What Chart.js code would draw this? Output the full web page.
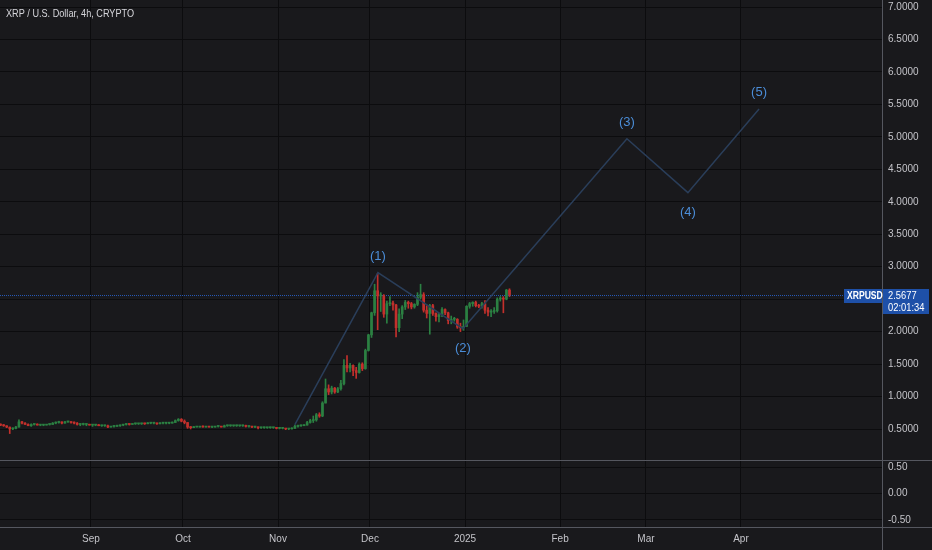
<!DOCTYPE html>
<html>
<head>
<meta charset="utf-8">
<script src="https://cdn.jsdelivr.net/npm/chart.js@4.4.1/dist/chart.umd.min.js"></script>
<style>
  html, body { margin: 0; padding: 0; background: #19191c; }
  #wrap { width: 932px; height: 550px; position: relative; }
</style>
</head>
<body>
<div id="wrap"><canvas id="grafica"></canvas></div>
<script>
// ---- data (days counted from 1 Sep 2024) ----
var firstDay = -31;      // 1 Aug 2024
var firstOpen = 0.58;

var closes = [
  0.57,0.56,0.55,0.53,0.50,0.51,0.53,0.61,0.59,0.57,0.55,0.57,0.57,0.56,0.56,0.56,0.57,0.57,0.59,0.60,0.61,0.59,0.61,0.61,0.60,0.59,0.57,0.57,0.57,0.57,0.56,
  0.56,0.56,0.55,0.55,0.55,0.53,0.54,0.54,0.55,0.56,0.57,0.58,0.57,0.58,0.58,0.58,0.59,0.58,0.59,0.59,0.59,0.58,0.59,0.59,0.59,0.59,0.60,0.63,0.65,0.62,
  0.60,0.53,0.52,0.53,0.53,0.54,0.53,0.54,0.53,0.53,0.54,0.54,0.53,0.55,0.55,0.55,0.55,0.55,0.55,0.55,0.54,0.54,0.53,0.53,0.52,0.52,0.52,0.52,0.52,0.52,0.51,
  0.51,0.51,0.50,0.50,0.51,0.54,0.55,0.55,0.56,0.60,0.63,0.64,0.72,0.70,0.90,1.12,1.07,1.13,1.07,1.12,1.20,1.48,1.44,1.48,1.40,1.37,1.50,1.43,1.71,1.95,
  2.29,2.63,2.55,2.55,2.27,2.43,2.44,2.41,2.06,2.27,2.38,2.45,2.43,2.38,2.42,2.53,2.57,2.33,2.28,2.40,2.28,2.23,2.26,2.34,2.29,2.17,2.19,2.19,2.07,2.06,2.08,
  2.39,2.43,2.45,2.40,2.39,2.43,2.33,2.30,2.31,2.32,2.50,2.51,2.50,2.64,2.57
];
var highs = [
  0.59,0.58,0.57,0.55,0.53,0.52,0.54,0.64,0.62,0.60,0.58,0.58,0.58,0.58,0.57,0.57,0.57,0.58,0.60,0.61,0.62,0.61,0.62,0.62,0.61,0.61,0.60,0.58,0.59,0.58,0.57,
  0.57,0.57,0.57,0.56,0.56,0.56,0.54,0.55,0.56,0.56,0.57,0.58,0.58,0.58,0.59,0.58,0.59,0.59,0.60,0.60,0.59,0.59,0.60,0.60,0.60,0.60,0.61,0.64,0.66,0.66,
  0.64,0.60,0.54,0.54,0.54,0.54,0.55,0.54,0.54,0.54,0.54,0.55,0.54,0.56,0.56,0.56,0.55,0.56,0.55,0.56,0.56,0.54,0.54,0.54,0.53,0.52,0.53,0.52,0.53,0.52,0.52,
  0.52,0.51,0.51,0.51,0.52,0.56,0.56,0.56,0.57,0.62,0.65,0.70,0.74,0.75,0.92,1.27,1.18,1.16,1.14,1.14,1.25,1.57,1.63,1.51,1.49,1.45,1.52,1.52,1.73,1.96,
  2.30,2.73,2.90,2.60,2.57,2.47,2.54,2.47,2.42,2.35,2.40,2.48,2.47,2.45,2.43,2.60,2.73,2.60,2.40,2.42,2.42,2.29,2.28,2.37,2.35,2.30,2.24,2.22,2.20,2.13,2.18,
  2.40,2.45,2.46,2.47,2.42,2.45,2.48,2.37,2.34,2.37,2.52,2.54,2.54,2.65,2.66
];
var lows = [
  0.56,0.55,0.54,0.52,0.43,0.49,0.50,0.53,0.58,0.57,0.55,0.54,0.56,0.56,0.55,0.55,0.56,0.56,0.57,0.58,0.59,0.58,0.59,0.60,0.59,0.58,0.56,0.55,0.56,0.55,0.56,
  0.54,0.55,0.55,0.54,0.54,0.52,0.53,0.53,0.54,0.54,0.55,0.56,0.56,0.57,0.57,0.57,0.57,0.57,0.58,0.58,0.58,0.57,0.58,0.58,0.58,0.58,0.59,0.60,0.62,0.61,
  0.58,0.51,0.50,0.52,0.53,0.53,0.53,0.53,0.53,0.52,0.53,0.53,0.53,0.53,0.54,0.54,0.54,0.54,0.54,0.54,0.53,0.53,0.52,0.52,0.50,0.51,0.51,0.51,0.51,0.51,0.50,
  0.50,0.50,0.49,0.49,0.50,0.51,0.53,0.54,0.55,0.56,0.59,0.60,0.62,0.68,0.69,0.90,1.03,1.04,1.05,1.06,1.10,1.18,1.38,1.38,1.32,1.28,1.36,1.40,1.42,1.70,
  1.91,2.25,2.03,2.31,2.22,2.13,2.40,2.33,1.92,2.00,2.20,2.34,2.36,2.35,2.36,2.40,2.50,2.30,2.21,1.96,2.25,2.16,2.15,2.23,2.26,2.12,2.12,2.16,2.05,2.00,2.02,
  2.08,2.36,2.39,2.38,2.37,2.36,2.28,2.24,2.23,2.28,2.30,2.47,2.29,2.49,2.54
];

var monthDays   = [0, 30, 61, 91, 122, 153, 181, 212];
var monthLabels = ['Sep', 'Oct', 'Nov', 'Dec', '2025', 'Feb', 'Mar', 'Apr'];
var priceTicks  = [0.5, 1, 1.5, 2, 2.5, 3, 3.5, 4, 4.5, 5, 5.5, 6, 6.5, 7];
var paneTicks   = [-0.5, 0, 0.5];

// elliott wave count drawn on top
var waveDays   = [66.5, 93.6, 121.3, 174.8, 194.7, 217.9];
var wavePrices = [0.566, 2.908, 2.045, 4.97, 4.14, 5.43];
var waveLabels = ['', '(1)', '(2)', '(3)', '(4)', '(5)'];

var lastPrice = 2.5677;
var symbol = 'XRPUSD';
var countdown = '02:01:34';
var title = 'XRP / U.S. Dollar, 4h, CRYPTO';

// ---- styles ----
var bg = '#19191c';
var gridCol = '#0c0c0e';
var sepCol = '#55575f';
var txtCol = '#c4c4c9';
var upCol = '#2b8042';
var downCol = '#c3302c';
var fontFam = '"Liberation Sans", Arial, sans-serif';

// build candles
var wicks = [], bodies = [], colors = [];
var open = firstOpen;
for (var i = 0; i < closes.length; i++) {
  var d = firstDay + i + 0.5;
  wicks.push({x: d, y: [lows[i], highs[i]]});
  bodies.push({x: d, y: [open, closes[i]]});
  colors.push(closes[i] >= open ? upCol : downCol);
  open = closes[i];
}
var wavePts = waveDays.map(function (d, k) { return {x: d, y: wavePrices[k]}; });

// narrow text like the tradingview font
function narrowText(c, txt, x, y, sx) {
  c.save();
  c.translate(x, y);
  c.scale(sx, 1);
  c.fillText(txt, 0, 0);
  c.restore();
}

var tvPlugin = {
  id: 'tv',
  beforeDraw: function (chart) {
    var c = chart.ctx;
    c.save();
    c.fillStyle = bg;
    c.fillRect(0, 0, chart.width, chart.height);
    c.restore();
  },
  beforeDatasetsDraw: function (chart) {
    var c = chart.ctx, a = chart.chartArea;
    var py = Math.round(chart.scales.y.getPixelForValue(lastPrice)) + 0.5;
    c.save();
    c.strokeStyle = '#2657b3';
    c.lineWidth = 1;
    c.setLineDash([1, 1]);
    c.beginPath();
    c.moveTo(a.left, py);
    c.lineTo(a.right, py);
    c.stroke();
    c.restore();
  },
  afterDraw: function (chart) {
    var c = chart.ctx, a = chart.chartArea;
    var sy = chart.scales.y, sx = chart.scales.x, s2 = chart.scales.y2;
    c.save();
    // pane separators
    c.strokeStyle = sepCol;
    c.lineWidth = 1;
    c.beginPath();
    var yb = Math.round(sy.bottom) + 0.5;
    c.moveTo(0, yb); c.lineTo(chart.width, yb);
    var yx = Math.round(s2.bottom) + 0.5;
    c.moveTo(0, yx); c.lineTo(chart.width, yx);
    var xr = Math.round(a.right) + 0.5;
    c.moveTo(xr, 0); c.lineTo(xr, chart.height);
    c.stroke();

    // wave labels
    c.fillStyle = '#4b8dd8';
    c.font = '13px "Liberation Sans", Arial, sans-serif';
    c.textAlign = 'center';
    c.textBaseline = 'middle';
    for (var k = 1; k < waveLabels.length; k++) {
      var px = sx.getPixelForValue(waveDays[k]);
      var py = sy.getPixelForValue(wavePrices[k]);
      c.fillText(waveLabels[k], px, k % 2 ? py - 16.5 : py + 20);
    }

    // title
    c.fillStyle = '#d6d6db';
    c.font = '11px ' + fontFam;
    c.textAlign = 'left';
    narrowText(c, title, 6, 14, 0.83);

    // last price labels
    var lp = Math.round(sy.getPixelForValue(lastPrice));
    c.fillStyle = '#1e50a8';
    c.fillRect(a.right - 38, lp - 6, 38, 14);
    c.fillRect(a.right + 1, lp - 6, 46, 25);
    c.fillStyle = '#ffffff';
    c.font = 'bold 11px ' + fontFam;
    c.textAlign = 'left';
    narrowText(c, symbol, a.right - 35, lp + 1, 0.78);
    c.font = '11px ' + fontFam;
    narrowText(c, lastPrice.toFixed(4), a.right + 6, lp + 1, 0.85);
    narrowText(c, countdown, a.right + 6, lp + 13, 0.85);
    c.restore();
  }
};

var ctx = document.getElementById('grafica').getContext('2d');
var myChart = new Chart(ctx, {
  type: 'bar',
  data: {
    datasets: [
      {
        type: 'line',
        data: wavePts,
        borderColor: '#2a3e5a',
        borderWidth: 1.5,
        pointRadius: 0,
        tension: 0,
        order: 0,
        yAxisID: 'y'
      },
      {
        data: bodies,
        backgroundColor: colors,
        barThickness: 2,
        minBarLength: 1,
        grouped: false,
        order: 1,
        yAxisID: 'y'
      },
      {
        data: wicks,
        backgroundColor: colors,
        barThickness: 1,
        grouped: false,
        order: 2,
        yAxisID: 'y'
      }
    ]
  },
  options: {
    responsive: true,
    maintainAspectRatio: false,
    animation: false,
    layout: { padding: 0 },
    plugins: {
      legend: { display: false },
      tooltip: { enabled: false }
    },
    scales: {
      x: {
        type: 'linear',
        position: 'bottom',
        min: -29.68,
        max: 258,
        offset: false,
        grid: { color: gridCol, offset: false, drawTicks: false },
        border: { display: false },
        afterBuildTicks: function (s) { s.ticks = monthDays.map(function (v) { return {value: v}; }); },
        afterFit: function (s) { s.height = 23; s.paddingLeft = 0; s.paddingRight = 0; },
        ticks: {
          padding: 6, color: txtCol, maxRotation: 0, autoSkip: false,
          font: { family: fontFam, size: 10 },
          callback: function (v, i) { return monthLabels[i]; }
        }
      },
      y: {
        type: 'linear',
        position: 'right',
        stack: 'pane',
        stackWeight: 460,
        min: 0.0225,
        max: 7.108,
        grid: { color: gridCol, drawTicks: false },
        border: { display: false },
        afterBuildTicks: function (s) { s.ticks = priceTicks.map(function (v) { return {value: v}; }); },
        afterFit: function (s) { s.width = 50; s.paddingTop = 0; s.paddingBottom = 0; },
        ticks: {
          padding: 6, color: txtCol,
          font: { family: fontFam, size: 10 },
          callback: function (v) { return v.toFixed(4); }
        }
      },
      y2: {
        type: 'linear',
        position: 'right',
        stack: 'pane',
        stackWeight: 67,
        min: -0.635,
        max: 0.635,
        grid: { color: gridCol, drawTicks: false },
        border: { display: false },
        afterBuildTicks: function (s) { s.ticks = paneTicks.map(function (v) { return {value: v}; }); },
        afterFit: function (s) { s.width = 50; s.paddingTop = 0; s.paddingBottom = 0; },
        ticks: {
          padding: 6, color: txtCol,
          font: { family: fontFam, size: 10 },
          callback: function (v) { return v.toFixed(2); }
        }
      }
    }
  },
  plugins: [tvPlugin]
});
</script>
</body>
</html>
